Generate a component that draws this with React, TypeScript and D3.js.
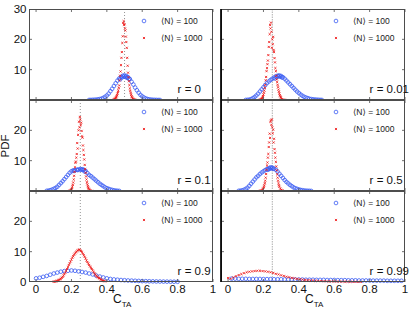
import React from "react";
import * as d3 from "d3";

type P = [number, number];

const rLabels = ["0", "0.01", "0.1", "0.5", "0.9", "0.99"];
const refLines = [0.5, 0.25, 0.25, 0.25, 0.25, 0.25];
const xTicks = [0, 0.2, 0.4, 0.6, 0.8, 1];
const xTickLabels = ["0", "0.2", "0.4", "0.6", "0.8", "1"];
const yTicks = [10, 20];
const yLabelRows: number[][] = [[10, 20, 30], [10, 20], [0, 10, 20]];
const legendLabels = ["\u27E8N\u27E9 = 100", "\u27E8N\u27E9 = 1000"];

const blueR0: P[] = [
  [0.3, 0.02], [0.31, 0.03], [0.32, 0.05], [0.33, 0.08], [0.34, 0.12], [0.35, 0.2], [0.36, 0.3], [0.37, 0.45],
  [0.38, 0.7], [0.39, 1.05], [0.4, 1.5], [0.41, 2.1], [0.42, 2.9], [0.43, 3.7], [0.44, 4.6], [0.45, 5.5],
  [0.46, 6.4], [0.47, 7.1], [0.475, 6.8], [0.48, 7.6], [0.485, 7.4], [0.49, 8.0], [0.495, 7.7], [0.5, 8.1],
  [0.505, 7.6], [0.51, 7.9], [0.515, 7.3], [0.52, 7.5], [0.525, 7.0], [0.53, 6.9], [0.54, 6.0], [0.55, 5.1],
  [0.56, 4.1], [0.57, 3.2], [0.58, 2.4], [0.59, 1.7], [0.6, 1.2], [0.61, 0.8], [0.62, 0.5], [0.63, 0.32],
  [0.64, 0.2], [0.65, 0.12], [0.66, 0.07], [0.67, 0.04], [0.68, 0.02], [0.69, 0.01], [0.7, 0.01],
];
const redR0: P[] = [
  [0.44, 0.15], [0.4425, 0.2], [0.445, 0.35], [0.4475, 0.5], [0.45, 0.7], [0.4525, 0.9], [0.455, 1.2], [0.4575, 1.6],
  [0.46, 2.1], [0.4625, 2.6], [0.465, 3.2], [0.4675, 4.0], [0.47, 4.8], [0.4725, 6.5], [0.475, 8.0], [0.4775, 9.4],
  [0.48, 11.5], [0.4825, 13.9], [0.485, 15.8], [0.4875, 18.8], [0.49, 21.0], [0.4925, 25.4], [0.495, 26.0], [0.4975, 24.7],
  [0.5, 25.0], [0.5025, 23.6], [0.505, 22.9], [0.5075, 20.9], [0.51, 19.1], [0.5125, 17.2], [0.515, 13.9], [0.5175, 11.3],
  [0.52, 9.0], [0.5225, 7.5], [0.525, 6.2], [0.5275, 4.9], [0.53, 3.8], [0.5325, 3.0], [0.535, 2.3], [0.5375, 1.7],
  [0.54, 1.2], [0.5425, 0.9], [0.545, 0.6], [0.5475, 0.4], [0.55, 0.25], [0.5525, 0.15], [0.555, 0.1], [0.56, 0.05],
];

const blueR001: P[] = [
  [0.1, 0.02], [0.11, 0.05], [0.12, 0.1], [0.13, 0.3], [0.14, 0.6], [0.15, 1.0], [0.16, 1.5], [0.17, 2.1],
  [0.18, 2.8], [0.19, 3.5], [0.2, 4.2], [0.21, 4.9], [0.22, 5.6], [0.23, 6.1], [0.24, 6.6], [0.25, 7.0],
  [0.26, 7.4], [0.265, 7.1], [0.27, 7.8], [0.275, 7.5], [0.28, 8.0], [0.285, 7.8], [0.29, 8.1], [0.295, 7.7],
  [0.3, 7.9], [0.305, 7.4], [0.31, 7.5], [0.32, 7.0], [0.33, 6.4], [0.34, 5.8], [0.35, 5.2], [0.36, 4.6],
  [0.37, 4.0], [0.38, 3.4], [0.39, 2.8], [0.4, 2.3], [0.41, 1.8], [0.42, 1.4], [0.43, 1.05], [0.44, 0.8],
  [0.45, 0.6], [0.46, 0.4], [0.47, 0.3], [0.48, 0.2], [0.49, 0.15], [0.5, 0.1], [0.51, 0.06], [0.52, 0.04], [0.53, 0.02],
];
const redR001: P[] = [
  [0.18, 0.05], [0.1825, 0.1], [0.185, 0.15], [0.1875, 0.25], [0.19, 0.4], [0.1925, 0.6], [0.195, 0.9], [0.1975, 1.3],
  [0.2, 1.8], [0.2025, 2.4], [0.205, 3.1], [0.2075, 4.0], [0.21, 5.0], [0.2125, 6.5], [0.215, 7.6], [0.2175, 9.5],
  [0.22, 10.5], [0.2225, 11.8], [0.225, 13.0], [0.2275, 14.8], [0.23, 17.5], [0.2325, 19.1], [0.235, 21.7], [0.2375, 24.7],
  [0.24, 23.6], [0.2425, 25.5], [0.245, 22.5], [0.2475, 17.2], [0.25, 20.0], [0.2525, 18.4], [0.255, 20.8], [0.2575, 16.5],
  [0.26, 15.8], [0.2625, 13.8], [0.265, 12.4], [0.2675, 10.5], [0.27, 9.5], [0.2725, 8.0], [0.275, 6.8], [0.2775, 5.9],
  [0.28, 5.0], [0.2825, 4.2], [0.285, 3.4], [0.2875, 2.7], [0.29, 2.1], [0.2925, 1.6], [0.295, 1.2], [0.2975, 0.9],
  [0.3, 0.6], [0.305, 0.3], [0.31, 0.15], [0.315, 0.08], [0.32, 0.04],
];

const blueR01: P[] = [
  [0.06, 0.05], [0.07, 0.1], [0.08, 0.25], [0.09, 0.45], [0.1, 0.7], [0.11, 1.0], [0.12, 1.4], [0.13, 2.0],
  [0.14, 2.6], [0.15, 3.2], [0.16, 3.9], [0.17, 4.6], [0.18, 5.3], [0.19, 6.0], [0.2, 6.5], [0.21, 6.8],
  [0.215, 6.6], [0.22, 6.9], [0.23, 7.0], [0.235, 6.9], [0.24, 7.1], [0.25, 7.2], [0.255, 7.0], [0.26, 7.2],
  [0.265, 6.9], [0.27, 7.0], [0.275, 6.4], [0.28, 6.6], [0.29, 5.9], [0.3, 5.3], [0.31, 4.9], [0.32, 4.4],
  [0.33, 3.9], [0.34, 3.4], [0.35, 2.9], [0.36, 2.4], [0.37, 2.0], [0.38, 1.6], [0.39, 1.2], [0.4, 0.9],
  [0.41, 0.7], [0.42, 0.5], [0.43, 0.35], [0.44, 0.2], [0.45, 0.12], [0.46, 0.06], [0.47, 0.03],
];
const redR01: P[] = [
  [0.19, 0.05], [0.1925, 0.1], [0.195, 0.2], [0.1975, 0.35], [0.2, 0.6], [0.2025, 0.9], [0.205, 1.4], [0.2075, 2.0],
  [0.21, 2.8], [0.2125, 3.8], [0.215, 5.0], [0.2175, 6.3], [0.22, 7.8], [0.2225, 9.3], [0.225, 9.7], [0.2275, 11.0],
  [0.23, 12.2], [0.2325, 15.8], [0.235, 14.0], [0.2375, 18.5], [0.24, 20.0], [0.2425, 22.8], [0.245, 21.0], [0.2475, 24.4],
  [0.25, 23.5], [0.2525, 21.7], [0.255, 22.5], [0.2575, 19.8], [0.26, 18.0], [0.2625, 17.6], [0.265, 15.0], [0.2675, 13.5],
  [0.27, 11.9], [0.2725, 10.4], [0.275, 8.6], [0.2775, 7.2], [0.28, 6.0], [0.2825, 4.8], [0.285, 3.8], [0.2875, 2.9],
  [0.29, 2.2], [0.2925, 1.6], [0.295, 1.1], [0.2975, 0.8], [0.3, 0.5], [0.305, 0.25], [0.31, 0.1], [0.315, 0.05],
];

const blueR05: P[] = [
  [0.06, 0.05], [0.07, 0.1], [0.08, 0.2], [0.09, 0.4], [0.1, 0.7], [0.11, 1.1], [0.12, 1.7], [0.13, 2.4],
  [0.14, 3.1], [0.15, 3.8], [0.16, 4.5], [0.17, 5.0], [0.18, 5.6], [0.19, 6.1], [0.2, 6.5], [0.21, 6.9],
  [0.22, 7.2], [0.225, 7.0], [0.23, 7.5], [0.235, 7.3], [0.24, 7.8], [0.245, 7.5], [0.25, 7.7], [0.255, 7.3],
  [0.26, 7.4], [0.27, 7.0], [0.28, 6.4], [0.29, 5.7], [0.3, 5.0], [0.31, 4.3], [0.32, 3.6], [0.33, 3.0],
  [0.34, 2.5], [0.35, 2.0], [0.36, 1.6], [0.37, 1.2], [0.38, 0.9], [0.39, 0.7], [0.4, 0.5], [0.41, 0.35],
  [0.42, 0.25], [0.43, 0.15], [0.44, 0.1], [0.45, 0.06], [0.46, 0.04], [0.47, 0.02],
];
const redR05: P[] = [
  [0.18, 0.05], [0.185, 0.15], [0.19, 0.3], [0.195, 0.6], [0.2, 1.0], [0.2025, 1.4], [0.205, 1.9], [0.2075, 2.6],
  [0.21, 3.4], [0.2125, 4.4], [0.215, 5.6], [0.2175, 7.0], [0.22, 8.4], [0.2225, 9.4], [0.225, 11.0], [0.2275, 12.2],
  [0.23, 14.5], [0.2325, 16.0], [0.235, 18.9], [0.2375, 17.5], [0.24, 22.8], [0.2425, 23.3], [0.245, 21.8], [0.2475, 23.6],
  [0.25, 21.0], [0.2525, 19.0], [0.255, 20.2], [0.2575, 16.0], [0.26, 17.2], [0.2625, 13.8], [0.265, 12.6], [0.2675, 11.0],
  [0.27, 9.6], [0.2725, 8.1], [0.275, 6.8], [0.2775, 5.5], [0.28, 4.4], [0.2825, 3.4], [0.285, 2.6], [0.2875, 1.9],
  [0.29, 1.4], [0.295, 0.8], [0.3, 0.4], [0.305, 0.2], [0.31, 0.1],
];

const blueR09: P[] = [
  [0.0, 1.2], [0.02, 1.4], [0.04, 1.7], [0.06, 2.0], [0.08, 2.4], [0.1, 2.8], [0.12, 3.1], [0.14, 3.4],
  [0.16, 3.6], [0.18, 3.7], [0.2, 3.8], [0.22, 3.7], [0.24, 3.5], [0.26, 3.3], [0.28, 3.1], [0.3, 2.8],
  [0.32, 2.5], [0.34, 2.1], [0.36, 1.8], [0.38, 1.5], [0.4, 1.2], [0.42, 1.0], [0.44, 0.85], [0.46, 0.75],
  [0.48, 0.65], [0.5, 0.58], [0.52, 0.5], [0.54, 0.45], [0.56, 0.4], [0.58, 0.35], [0.6, 0.3], [0.62, 0.27],
  [0.64, 0.24], [0.66, 0.21], [0.68, 0.18], [0.7, 0.16], [0.72, 0.14], [0.74, 0.12], [0.76, 0.1], [0.78, 0.09], [0.8, 0.08],
];
const redR09: P[] = [
  [0.1, 0.1], [0.105, 0.15], [0.11, 0.2], [0.115, 0.3], [0.12, 0.4], [0.125, 0.55], [0.13, 0.7], [0.135, 0.9],
  [0.14, 1.1], [0.145, 1.4], [0.15, 1.7], [0.155, 2.1], [0.16, 2.6], [0.165, 3.1], [0.17, 3.7], [0.175, 4.3],
  [0.18, 4.9], [0.185, 5.6], [0.19, 6.2], [0.195, 6.8], [0.2, 7.4], [0.205, 8.0], [0.21, 8.5], [0.215, 9.0],
  [0.22, 9.4], [0.225, 9.8], [0.23, 10.1], [0.235, 10.4], [0.24, 10.6], [0.245, 10.7], [0.25, 10.5], [0.255, 10.2],
  [0.26, 9.8], [0.265, 9.3], [0.27, 8.8], [0.275, 8.3], [0.28, 7.7], [0.285, 7.1], [0.29, 6.6], [0.295, 6.1],
  [0.3, 5.6], [0.305, 5.1], [0.31, 4.7], [0.315, 4.3], [0.32, 3.8], [0.325, 3.3], [0.33, 2.9], [0.335, 2.5],
  [0.34, 2.1], [0.345, 1.8], [0.35, 1.5], [0.355, 1.3], [0.36, 1.1], [0.365, 0.9], [0.37, 0.7], [0.375, 0.55],
  [0.38, 0.4], [0.385, 0.3], [0.39, 0.2],
];

const blueR099: P[] = [
  [0.02, 1.1], [0.04, 1.1], [0.06, 1.05], [0.08, 1.05], [0.1, 1.05], [0.12, 1.0], [0.14, 1.0], [0.16, 1.0],
  [0.18, 1.0], [0.2, 0.95], [0.22, 0.95], [0.24, 0.95], [0.26, 0.9], [0.28, 0.9], [0.3, 0.9], [0.32, 0.85],
  [0.34, 0.85], [0.36, 0.85], [0.38, 0.8], [0.4, 0.8], [0.42, 0.8], [0.44, 0.75], [0.46, 0.75], [0.48, 0.75],
  [0.5, 0.7], [0.52, 0.7], [0.54, 0.7], [0.56, 0.65], [0.58, 0.65], [0.6, 0.65], [0.62, 0.6], [0.64, 0.6],
  [0.66, 0.6], [0.68, 0.55], [0.7, 0.55], [0.72, 0.55], [0.74, 0.5], [0.76, 0.5], [0.78, 0.5], [0.8, 0.5],
  [0.82, 0.45], [0.84, 0.45], [0.86, 0.45], [0.88, 0.45], [0.9, 0.4], [0.92, 0.4], [0.94, 0.4], [0.96, 0.4], [0.98, 0.4],
];
const redR099: P[] = [
  [0.0, 1.3], [0.015, 1.1], [0.03, 1.5], [0.045, 1.9], [0.06, 2.3], [0.075, 2.6], [0.09, 2.9], [0.105, 3.2],
  [0.12, 3.4], [0.135, 3.5], [0.15, 3.6], [0.165, 3.7], [0.18, 3.7], [0.195, 3.6], [0.21, 3.5], [0.225, 3.4],
  [0.24, 3.2], [0.255, 3.0], [0.27, 2.7], [0.285, 2.5], [0.3, 2.2], [0.315, 2.0], [0.33, 1.75], [0.345, 1.55],
  [0.36, 1.35], [0.375, 1.2], [0.39, 1.05], [0.405, 0.9], [0.42, 0.8], [0.435, 0.7], [0.45, 0.6], [0.465, 0.52],
  [0.48, 0.45], [0.495, 0.4], [0.51, 0.35], [0.525, 0.3], [0.54, 0.27], [0.555, 0.24], [0.57, 0.21], [0.585, 0.19],
  [0.6, 0.17], [0.615, 0.15], [0.63, 0.13], [0.645, 0.12], [0.66, 0.1], [0.675, 0.09], [0.69, 0.08], [0.705, 0.07],
  [0.72, 0.06], [0.735, 0.05], [0.75, 0.04],
];

const blueSeries = [blueR0, blueR001, blueR01, blueR05, blueR09, blueR099];
const redSeries = [redR0, redR001, redR01, redR05, redR09, redR099];

const W = 415;
const H = 312;
const colLeft = [29, 221];
const colRight = [213, 405];
const rowTop = [9, 100, 191];
const rowH = 91;
const BLUE = "#3a5cf2";
const RED = "#ee1c1c";
const AXIS = "#4d4d4d";
const FONT = "'Liberation Sans', Arial, Helvetica, 'DejaVu Sans', sans-serif";

function Panel({ idx }: { idx: number }) {
  const col = idx % 2;
  const row = Math.floor(idx / 2);
  const left = colLeft[col];
  const right = colRight[col];
  const top = rowTop[row];
  const bottom = top + rowH;
  const x = d3.scaleLinear().domain([-0.04, 1]).range([left, right]);
  const y = d3.scaleLinear().domain([0, 30]).range([bottom, top]);
  const tl = 3;
  const blue = blueSeries[idx];
  const red = redSeries[idx];
  const refX = x(refLines[idx]);
  const m = 1.05;
  return (
    <g>
      <rect x={left} y={top} width={right - left} height={rowH} fill="white" />
      <line x1={refX} x2={refX} y1={top} y2={bottom} stroke={col === 0 ? "#7a7a7a" : "#b0b0b0"}
        strokeWidth={col === 0 ? 0.8 : 1} strokeDasharray={col === 0 ? "1,2" : "1.5,1"} />
      {blue.map((p, i) => (
        <circle key={"b" + i} cx={x(p[0])} cy={y(p[1])} r={1.85} fill="none" stroke={BLUE} strokeWidth={0.8} />
      ))}
      {red.map((p, i) => {
        const cx = x(p[0]);
        const cy = y(p[1]);
        return (
          <path key={"r" + i} d={`M${cx - m},${cy - m}L${cx + m},${cy + m}M${cx - m},${cy + m}L${cx + m},${cy - m}`}
            stroke={RED} strokeWidth={0.85} fill="none" />
        );
      })}
      <rect x={left + 0.5} y={top + 0.5} width={right - left - 1} height={rowH - 1} fill="none" stroke={AXIS} strokeWidth={1} />
      {xTicks.map((t, i) => (
        <g key={"xt" + i}>
          <line x1={x(t)} x2={x(t)} y1={bottom} y2={bottom - tl} stroke={AXIS} strokeWidth={0.8} />
          <line x1={x(t)} x2={x(t)} y1={top} y2={top + tl} stroke={AXIS} strokeWidth={0.8} />
        </g>
      ))}
      {yTicks.map((t, i) => (
        <g key={"yt" + i}>
          <line x1={left} x2={left + tl} y1={y(t)} y2={y(t)} stroke={AXIS} strokeWidth={0.8} />
          <line x1={right} x2={right - tl} y1={y(t)} y2={y(t)} stroke={AXIS} strokeWidth={0.8} />
        </g>
      ))}
      <circle cx={right - 69} cy={top + 12} r={1.85} fill="none" stroke={BLUE} strokeWidth={0.8} />
      <path d={`M${right - 69 - m},${top + 29 - m}L${right - 69 + m},${top + 29 + m}M${right - 69 - m},${top + 29 + m}L${right - 69 + m},${top + 29 - m}`}
        stroke={RED} strokeWidth={0.85} />
      <text x={right - 52} y={top + 12} fontSize={8.5} dominantBaseline="central" fill="#1a1a1a" fontFamily={FONT}>{legendLabels[0]}</text>
      <text x={right - 52} y={top + 29} fontSize={8.5} dominantBaseline="central" fill="#1a1a1a" fontFamily={FONT}>{legendLabels[1]}</text>
      <text x={x(0.8)} y={y(2.4)} fontSize={11.5} fill="#111" fontFamily={FONT}>{"r = " + rLabels[idx]}</text>
      {col === 0 && yLabelRows[row].map((t, i) => (
        <text key={"yl" + i} x={left - 2.5} y={y(t)} fontSize={11.5} textAnchor="end" dominantBaseline="central" fill="#111" fontFamily={FONT}>{t}</text>
      ))}
      {row === 2 && xTicks.map((t, i) => (
        <text key={"xl" + i} x={x(t)} y={bottom + 11} fontSize={11.5} textAnchor="middle" fill="#111" fontFamily={FONT}>{xTickLabels[i]}</text>
      ))}
    </g>
  );
}

export default function App() {
  const idxs = [0, 1, 2, 3, 4, 5];
  return (
    <svg width={W} height={H} style={{ position: "absolute", left: 0, top: 0, background: "white" }}>
      <rect x={0} y={0} width={W} height={H} fill="white" />
      {idxs.map((i) => <Panel key={i} idx={i} />)}
      <line x1={221} x2={221} y1={rowTop[0]} y2={rowTop[2] + rowH} stroke="#000" strokeWidth={1.7} />
      <text transform="translate(9,146) rotate(-90)" fontSize={11.5} textAnchor="middle" fill="#111" fontFamily={FONT}>PDF</text>
      <text x={113} y={303} fontSize={12} fill="#111" fontFamily={FONT}>
        C<tspan fontSize={8} dy={3.5}>TA</tspan>
      </text>
      <text x={305} y={303} fontSize={12} fill="#111" fontFamily={FONT}>
        C<tspan fontSize={8} dy={3.5}>TA</tspan>
      </text>
    </svg>
  );
}
